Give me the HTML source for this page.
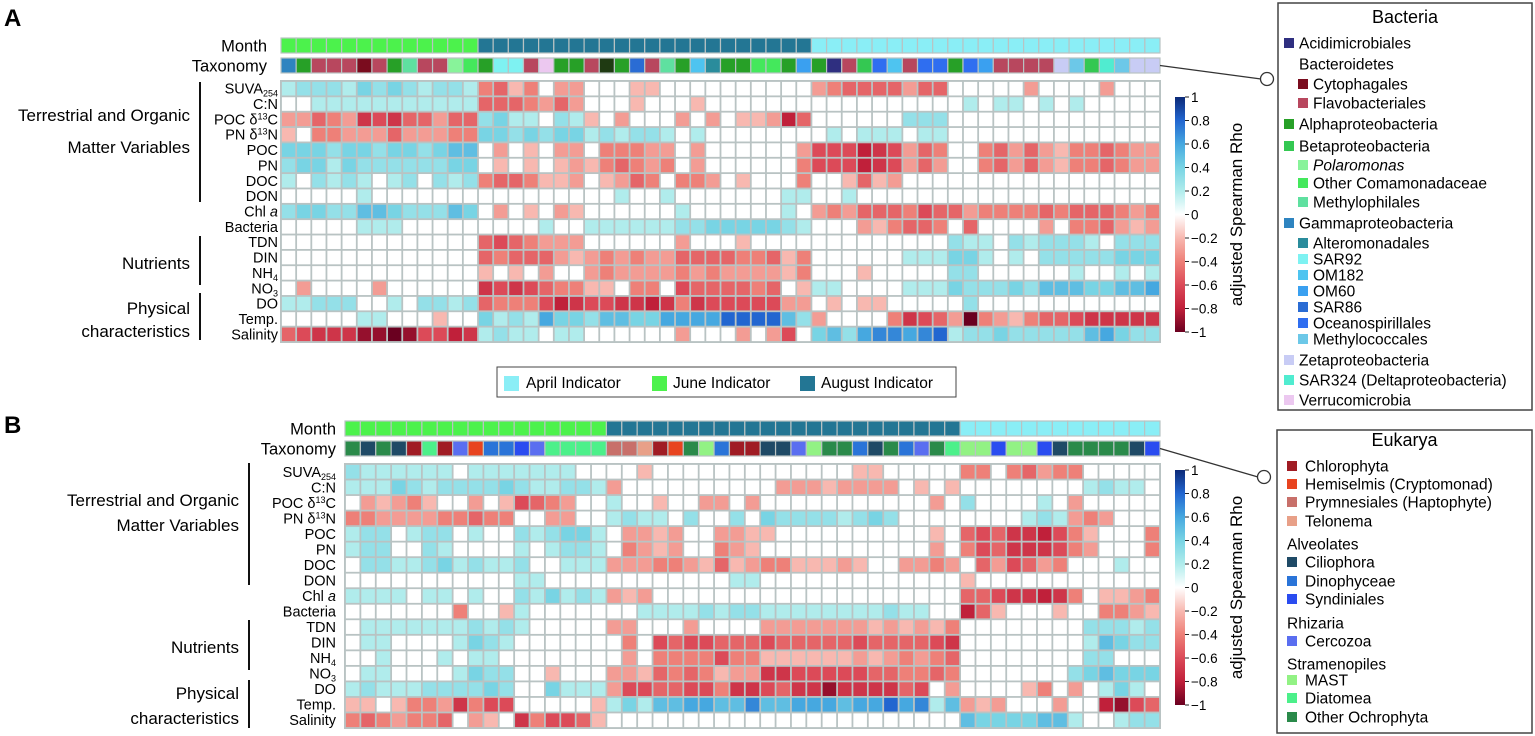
<!DOCTYPE html>
<html><head><meta charset="utf-8"><style>
html,body{margin:0;padding:0;background:#fff;}
svg{display:block;font-family:"Liberation Sans",sans-serif;}
</style></head><body>
<svg id="fig" width="1535" height="736" viewBox="0 0 1535 736" xmlns="http://www.w3.org/2000/svg">
<text x="4" y="26" font-size="24" font-weight="bold">A</text>
<text x="4" y="433" font-size="24" font-weight="bold">B</text>
<g id="gA"></g>
<g id="gB"></g>
<g>
<rect x="497" y="367" width="459" height="30" fill="#fff" stroke="#444" stroke-width="1"/>
<rect x="504" y="376" width="15" height="15" fill="#8aeef6"/>
<text x="526" y="388" font-size="15.5">April Indicator</text>
<rect x="652" y="376" width="15" height="15" fill="#4cf24c"/>
<text x="673" y="388" font-size="15.5">June Indicator</text>
<rect x="800" y="376" width="15" height="15" fill="#237694"/>
<text x="821" y="388" font-size="15.5">August Indicator</text>
</g>
<g id="legA"></g>
<g id="legB"></g>
</svg>
<script>
// ---------- data ----------
const rowLabels = ["SUVA254","C:N","POC d13C","PN d13N","POC","PN","DOC","DON","Chl a","Bacteria","TDN","DIN","NH4","NO3","DO","Temp.","Salinity"];
const monthOrderA = ["June","August","April"];
const monthCountsA = [13,22,23];
const monthOrderB = ["June","August","April"];
const monthCountsB = [17,23,13];
const taxaA = ["gamma","alpha","flavo","flavo","flavo","cyto","flavo","alpha","methylo","flavo","flavo","polar","otherCom","alpha","sar92","sar92","flavo","verruco","alpha","alpha","flavo","unk","alpha","sar86","flavo","methylo","alpha","om182","altero","alpha","alpha","otherCom","otherCom","alpha","om60","alpha","acidi","flavo","beta","oceano","om182","flavo","oceano","oceano","alpha","oceano","om60","flavo","flavo","flavo","flavo","zeta","methylococ","beta","sar324","methylococ","zeta","zeta"];
const taxaB = ["ochro","cilio","ochro","cilio","chloro","diatom","chloro","cerco","hemi","dino","dino","synd","cerco","diatom","diatom","diatom","diatom","prym","prym","telo","chloro","hemi","ochro","mast","dino","chloro","chloro","cilio","cilio","cerco","mast","ochro","ochro","dino","cilio","ochro","dino","cerco","ochro","diatom","mast","mast","synd","mast","mast","synd","cilio","ochro","ochro","ochro","ochro","cilio","synd"];
// values in tenths of adjusted Spearman rho
const rhoA = [
[2,3,3,3,2,4,3,4,3,2,3,3,2,-4,-5,-2,-4,0,-3,-3,0,0,0,-2,-2,0,0,0,0,0,0,0,0,0,0,-3,-4,-5,-5,-5,-5,-3,-5,-5,0,0,0,0,0,-3,0,0,0,0,-3,0,0,0],
[0,0,2,2,2,2,2,2,2,2,2,2,2,-5,-5,-5,-4,-3,-5,-3,0,0,0,-2,0,0,0,-2,0,0,0,0,0,0,0,0,0,0,0,0,0,0,0,0,0,2,0,2,2,0,2,0,2,0,0,0,0,0],
[-3,-3,-5,-4,-3,-7,-6,-7,-5,-5,-3,-5,-5,3,4,2,2,0,3,2,-2,0,-3,0,0,0,-3,0,-3,0,-2,-2,-3,-8,-5,0,0,0,0,0,0,3,3,3,0,0,0,0,0,0,0,0,0,0,0,0,0,0],
[-2,0,-4,-4,-3,-3,-3,-5,-3,-3,-3,-4,-4,4,4,3,4,3,4,4,2,3,2,3,3,2,0,2,0,0,0,0,0,0,0,0,2,0,2,2,2,0,2,2,0,0,0,0,0,0,0,0,0,0,0,0,0,0],
[4,4,4,3,4,4,3,4,4,3,4,5,5,0,-3,0,-2,0,-3,-3,0,-4,-4,-4,-3,-3,0,-3,0,0,0,0,0,0,-3,-6,-6,-6,-8,-7,-6,-3,-5,-4,0,0,-4,-5,-3,-5,-3,-2,-4,-4,-5,-4,-3,-3],
[3,4,4,2,4,3,3,3,3,3,3,4,4,0,-2,0,-2,0,-2,-3,-2,-4,-5,-4,-3,-4,0,-3,0,0,0,0,0,0,-4,-6,-6,-6,-8,-7,-6,-3,-5,-3,0,0,-4,-5,-3,-5,-3,-2,-4,-4,-5,-4,-3,-3],
[2,0,3,2,3,2,0,2,3,0,3,2,3,-4,-5,-5,-4,-2,-2,-3,0,-2,-3,-5,-4,0,-4,-4,-3,0,-2,0,0,0,-4,0,0,-2,-5,-2,-3,0,0,0,0,0,0,0,0,0,0,0,0,0,0,0,0,0],
[0,0,0,0,0,2,0,0,0,0,0,0,0,0,0,0,0,0,0,0,0,0,2,0,0,2,0,0,0,0,0,0,0,2,2,0,0,2,0,0,0,0,0,0,0,0,0,0,0,0,0,0,0,0,0,0,0,0],
[3,4,4,3,3,5,5,4,3,3,3,5,4,0,-3,0,-2,0,-3,-2,0,0,0,0,0,0,2,0,0,0,0,0,0,2,0,-3,-4,-3,-5,-5,-5,-4,-6,-5,-5,-3,-4,-4,-4,-4,-5,-4,-5,-5,-5,-4,-3,-4],
[0,0,0,0,0,2,2,2,0,0,0,0,0,0,0,0,0,2,0,0,2,2,2,2,2,2,3,3,4,4,4,4,4,3,2,0,0,0,-3,-2,-4,-5,-5,-4,0,-5,0,0,0,0,-3,0,-4,-4,-5,-3,-2,-3],
[0,0,0,0,0,0,0,0,0,0,0,0,0,-5,-6,-5,-4,-3,-3,-3,0,0,0,0,0,0,-3,0,0,0,-2,0,0,0,0,0,0,0,0,0,0,0,0,0,3,2,2,0,3,2,3,3,3,2,0,3,3,3],
[0,0,0,0,0,0,0,0,0,0,0,0,0,-5,-4,-5,-5,-5,-3,-2,-3,-4,-3,-4,-3,-3,-5,-5,-5,-5,-4,-4,-5,-2,-4,0,0,0,0,0,0,2,2,2,4,4,2,0,2,0,3,3,3,3,3,4,4,4],
[0,0,0,0,0,0,0,0,0,0,0,0,0,-2,0,-2,0,-3,0,0,-3,-4,-3,-3,-3,-3,-4,-3,-4,-3,-3,-3,-3,-2,-4,0,0,0,-2,0,0,0,0,0,3,3,0,0,0,0,0,0,2,0,0,2,0,2],
[0,-3,0,0,0,0,-3,0,0,0,0,0,0,-7,-6,-7,-6,-5,-4,-4,-2,-2,0,-4,-4,0,-6,-5,-5,-5,-5,-4,-5,0,-2,2,2,0,0,0,0,2,2,2,4,3,3,3,4,3,5,5,5,4,4,5,5,6],
[2,2,3,3,3,0,0,2,0,3,3,2,3,-5,-4,-4,-4,-6,-8,-7,-6,-6,-7,-7,-8,-7,-4,-7,-6,-6,-6,-6,-6,-3,-3,0,-2,0,-2,-2,0,0,0,0,0,3,0,0,0,0,0,0,0,0,0,0,0,0],
[0,0,0,0,0,2,2,0,0,0,-2,0,0,4,2,3,2,6,4,4,3,5,5,4,4,6,6,6,6,8,8,8,8,5,3,-3,0,0,0,0,-4,-7,-6,-5,-3,-10,-4,-3,-2,-4,-5,-5,-6,-7,-7,-7,-7,-7],
[-5,-6,-7,-7,-7,-9,-9,-10,-9,-6,-6,-8,-7,2,3,2,2,0,2,2,0,0,0,0,0,0,-3,0,0,0,-3,0,-3,-6,0,4,5,3,6,7,7,6,7,8,2,3,3,4,3,3,3,3,3,5,6,4,3,3]
];
const rhoB = [
[3,2,2,2,2,2,2,0,2,2,2,2,2,2,2,0,0,0,0,-2,0,0,0,0,0,0,0,0,0,0,0,0,0,-2,-2,0,0,0,0,0,-4,-4,0,-4,-5,-3,-4,-4,0,0,0,0,0],
[2,2,2,4,3,2,3,3,3,3,4,3,2,2,3,3,2,-3,0,0,0,0,0,0,0,0,0,0,-3,-3,-3,-2,-3,-3,-3,-3,0,-2,0,-2,0,0,0,0,0,0,0,0,2,3,2,2,0],
[0,-3,-2,-3,-4,-2,0,0,-3,0,-2,-6,-5,-4,-3,0,0,2,0,0,-2,0,0,-3,-3,0,-3,0,0,0,0,0,0,0,0,0,0,0,-3,0,3,0,0,0,0,2,0,-3,0,0,0,0,0],
[-4,-4,-3,-3,-3,-3,-4,-4,-5,-4,-4,0,0,-3,-3,0,0,2,3,2,2,0,3,0,0,3,0,4,3,3,3,3,2,3,4,3,0,0,0,0,0,0,0,0,2,3,2,-3,-4,-3,0,0,0],
[2,3,3,0,2,3,3,0,2,0,0,3,2,3,4,4,2,0,-3,-3,-2,-3,0,0,-3,-3,-2,-2,0,0,0,0,0,0,0,0,0,0,-2,0,-5,-6,-5,-7,-7,-8,-6,-4,-2,0,0,0,-4],
[2,3,3,0,0,3,2,0,0,0,0,2,0,2,3,3,2,0,-4,-3,-2,-3,0,0,-4,-3,-2,0,0,0,0,0,0,0,0,0,0,0,-3,0,-4,-6,-5,-7,-7,-7,-6,-4,-3,0,0,0,-4],
[0,3,3,2,2,3,4,2,3,2,2,3,0,0,2,2,2,-3,-3,-3,-4,-4,-3,-2,-5,-2,-3,-4,-4,-2,-2,-2,-3,-2,0,0,-3,-3,-4,-3,0,-5,-3,-6,-5,-3,-4,0,0,0,2,0,0],
[0,0,0,0,0,0,0,0,0,0,0,2,2,0,0,0,0,0,0,0,0,0,0,0,0,2,2,0,0,0,0,0,0,0,0,0,0,0,0,0,-2,0,0,0,0,0,0,0,0,0,0,0,0],
[2,2,2,2,0,2,2,0,2,0,0,3,2,4,2,3,2,-3,-2,-3,0,0,0,0,0,0,0,0,0,0,0,0,0,0,0,0,0,0,0,0,-5,-5,-6,-7,-7,-8,-7,-4,0,-2,-2,-3,-4],
[0,0,0,0,0,0,0,-4,0,0,-2,2,0,0,0,0,0,0,0,2,2,2,2,3,2,3,3,2,2,2,2,2,2,2,2,3,2,2,0,0,-8,-5,-2,0,0,0,-2,0,0,-4,-4,-3,-2],
[0,2,2,2,2,2,2,2,3,2,3,2,0,0,0,0,0,-3,-3,0,0,0,-3,0,0,0,0,-3,-3,-3,-3,-3,-3,-3,-2,-3,-2,-3,-2,-4,0,0,0,0,0,0,0,0,3,3,3,2,3],
[0,2,2,0,0,0,0,2,4,3,2,0,0,0,0,0,0,0,-4,0,-6,-5,-6,-6,-5,-5,-5,-6,-5,-5,-5,-5,-5,-6,-5,-5,-5,-5,-6,-7,0,0,0,0,0,0,0,0,2,5,4,3,3],
[0,0,2,0,0,0,2,0,2,2,0,0,0,0,0,0,0,0,-3,0,-4,-4,-4,-4,-6,-4,-4,-2,-2,-2,-2,-2,-2,-3,-2,-3,-4,-3,-4,-5,0,0,0,0,0,0,0,0,3,3,0,0,0],
[0,2,2,0,0,0,0,2,4,3,3,0,0,-2,0,0,0,-3,-3,-2,-5,-4,-5,-4,-2,-3,-3,-7,-7,-6,-6,-6,-6,-6,-5,-5,-4,-4,-5,-4,0,0,0,0,0,0,0,3,4,5,4,4,4],
[2,3,2,2,2,3,3,3,3,4,3,0,0,4,2,2,2,-3,-6,-6,-5,-5,-6,-6,-4,-7,-7,-6,-5,-7,-7,-9,-7,-7,-7,-7,-5,-6,0,-3,0,0,0,0,-2,-4,0,-3,0,2,4,2,0],
[-2,-2,0,-2,-4,-4,-3,-7,-4,-6,-6,0,0,0,0,0,-2,2,4,2,5,5,6,6,5,5,7,5,5,6,6,6,5,6,6,8,6,7,2,5,-3,-2,-3,0,0,0,-3,0,0,-8,-9,-6,-5],
[-4,-5,-4,-3,-4,-4,-5,0,-3,-2,0,-7,-4,-6,-6,-5,-2,0,0,0,0,0,0,0,0,0,0,0,0,0,0,0,0,0,0,0,0,0,0,0,5,4,4,4,4,5,5,2,0,0,2,3,3]
];
const tickValues = [1,0.8,0.6,0.4,0.2,0,-0.2,-0.4,-0.6,-0.8,-1];
const tickLabels = ["1","0.8","0.6","0.4","0.2","0","\u22120.2","\u22120.4","\u22120.6","\u22120.8","\u22121"];

// ---------- styling ----------
const NS="http://www.w3.org/2000/svg";
const monthColor={June:"#4cf24c",August:"#237694",April:"#8aeef6"};
const taxColor={acidi:"#2f2f80",cyto:"#7a0c1e",flavo:"#b8475e",alpha:"#27a027",beta:"#34c852",polar:"#88f39a",otherCom:"#44e85c",methylo:"#5fe0a0",gamma:"#2e84c0",altero:"#2a8c9c",sar92:"#7ef2f2",om182:"#4ec4f0",om60:"#3aa0f0",sar86:"#2a6cd4",oceano:"#2f6ef0",methylococ:"#6cc8e8",zeta:"#c8ccf5",sar324:"#50ecd0",verruco:"#ecc8f0",unk:"#1f3a12",
chloro:"#a01c24",hemi:"#e84420",prym:"#c8706a",telo:"#e8a088",cilio:"#1f4a66",dino:"#2a74d8",synd:"#2a4cf0",cerco:"#5a6ef0",mast:"#92f284",diatom:"#4cf08a",ochro:"#2a8a4a"};
const stopsV=[-1,-0.8,-0.6,-0.4,-0.2,0,0.2,0.4,0.6,0.8,1];
const stopsC=["#6a0020","#c0203a","#dc4a58","#ee8078","#f8b8b0","#ffffff","#b0ecec","#78d4e4","#46a8e0","#2266d0","#0c2a78"];
function hex2(c){return [1,3,5].map(i=>parseInt(c.substr(i,2),16));}
function colorAt(v){
  v=Math.max(-1,Math.min(1,v));
  for(let i=0;i<stopsV.length-1;i++){
    if(v<=stopsV[i+1]){const t=(v-stopsV[i])/(stopsV[i+1]-stopsV[i]);
      const a=hex2(stopsC[i]),b=hex2(stopsC[i+1]);
      return "rgb("+a.map((x,k)=>Math.round(x+(b[k]-x)*t)).join(",")+")";}
  }
  return stopsC[stopsC.length-1];
}
function mk(tag,attrs,parent){const e=document.createElementNS(NS,tag);for(const k in attrs)e.setAttribute(k,attrs[k]);parent.appendChild(e);return e;}
const GRID="#b9c3c3";

function labelText(g,name,x,y,size){
  const t=mk("text",{x:x,y:y,"font-size":size,"text-anchor":"end"},g);
  
  
  const sub=(s)=>{const ts=mk("tspan",{"font-size":size*0.62,dy:3},t);ts.textContent=s;};
  if(name==="SUVA254"){t.appendChild(document.createTextNode("SUVA"));sub("254");}
  else if(name==="NH4"){t.appendChild(document.createTextNode("NH"));sub("4");}
  else if(name==="NO3"){t.appendChild(document.createTextNode("NO"));sub("3");}
  else if(name==="POC d13C"||name==="PN d13N"){
    const p=name.split(" ")[0];t.appendChild(document.createTextNode(p+" \u03b4"));
    const s=mk("tspan",{"font-size":size*0.62,dy:-5},t);s.textContent="13";
    const r=mk("tspan",{dy:5},t);r.textContent=name.endsWith("C")?"C":"N";}
  else if(name==="Chl a"){t.appendChild(document.createTextNode("Chl "));const i=mk("tspan",{"font-style":"italic"},t);i.textContent="a";}
  else t.textContent=name;
}

function drawPanel(g,P){
  const nC=P.taxa.length, pitch=(P.x1-P.x0)/nC, rowH=(P.hy1-P.hy0)/rowLabels.length;
  const xs=i=>P.x0+i*pitch;
  // month bar
  let c=0;
  P.monthOrder.forEach((m,mi)=>{for(let k=0;k<P.monthCounts[mi];k++,c++){
    const r=mk("rect",{x:xs(c),y:P.my,width:pitch,height:P.bh,fill:monthColor[m],stroke:GRID,"stroke-width":1.2},g);
    
    
  }});
  // taxonomy bar
  P.taxa.forEach((tx,i)=>{
    const r=mk("rect",{x:xs(i),y:P.ty,width:pitch,height:P.bh,fill:taxColor[tx],stroke:GRID,"stroke-width":1.2},g);
    
    
  });
  // heatmap frame
  const fr=mk("rect",{x:P.x0-1,y:P.hy0-1,width:P.x1-P.x0+2,height:P.hy1-P.hy0+2,fill:GRID},g);
  
  
  P.data.forEach((row,ri)=>{
    row.forEach((v,ci)=>{
      const r=mk("rect",{x:xs(ci)+0.9,y:P.hy0+ri*rowH+0.9,width:pitch-1.8,height:rowH-1.8,fill:colorAt(v/10)},g);
      
      
    });
    labelText(g,rowLabels[ri],P.lx,P.hy0+ri*rowH+rowH/2+5,14.5);
  });
  // Month / Taxonomy labels
  const t1=mk("text",{x:P.mlx,y:P.my+P.bh/2+6,"font-size":16.5,"text-anchor":"end"},g);t1.textContent="Month";
  
  
  const t2=mk("text",{x:P.mlx,y:P.ty+P.bh/2+6,"font-size":16.5,"text-anchor":"end"},g);t2.textContent="Taxonomy";
  
  
  // groups
  P.groups.forEach(gr=>{
    const l=mk("line",{x1:P.gx,x2:P.gx,y1:gr.y0,y2:gr.y1,stroke:"#111","stroke-width":2},g);
    
    
    gr.lines.forEach((s,k)=>{
      const t=mk("text",{x:P.gtx,y:gr.ty[k],"font-size":17,"text-anchor":"end"},g);t.textContent=s;
      
      
    });
  });
  // colorbar
  const id="grad"+P.key;
  const defs=mk("defs",{},g);
  const lg=mk("linearGradient",{id:id,x1:0,y1:0,x2:0,y2:1},defs);
  stopsV.slice().reverse().forEach((v,i)=>{mk("stop",{offset:(i/(stopsV.length-1)),"stop-color":stopsC[stopsC.length-1-i]},lg);});
  const cb=mk("rect",{x:1175,y:P.cy0,width:10,height:P.cy1-P.cy0,fill:"url(#"+id+")"},g);
  
  
  const cyv=v=>P.cy0+(1-v)/2*(P.cy1-P.cy0);
  tickValues.forEach((v,i)=>{
    const tk=mk("line",{x1:1185,x2:1189,y1:cyv(v),y2:cyv(v),stroke:"#222","stroke-width":1},g);
    
    
    const t=mk("text",{x:1191,y:cyv(v)+5,"font-size":13.5},g);t.textContent=tickLabels[i];
    
    
  });
  const ct=mk("text",{x:0,y:0,"font-size":17,"text-anchor":"middle",transform:"translate(1242,"+((P.cy0+P.cy1)/2)+") rotate(-90)"},g);
  ct.textContent="adjusted Spearman Rho";
  
  
  // connector
  const cl=mk("line",{x1:P.x1,y1:P.ty+P.bh/2,x2:P.cx-6,y2:P.cyc,stroke:"#333","stroke-width":1.3},g);
  
  
  const cc=mk("circle",{cx:P.cx,cy:P.cyc,r:6.5,fill:"#fff",stroke:"#333","stroke-width":1.3},g);
  
  
}

drawPanel(document.getElementById("gA"),{key:"A",taxa:taxaA,data:rhoA,monthOrder:monthOrderA,monthCounts:monthCountsA,
  x0:281,x1:1160,my:38,ty:58,bh:15,hy0:81,hy1:342,lx:278,mlx:267,gx:200,gtx:190,
  groups:[{y0:82,y1:202,lines:["Terrestrial and Organic","Matter Variables"],ty:[121,153]},
          {y0:236,y1:285,lines:["Nutrients"],ty:[269]},
          {y0:293,y1:340,lines:["Physical","characteristics"],ty:[314,337]}],
  cy0:97,cy1:332,cx:1267,cyc:79});
drawPanel(document.getElementById("gB"),{key:"B",taxa:taxaB,data:rhoB,monthOrder:monthOrderB,monthCounts:monthCountsB,
  x0:345,x1:1160,my:421,ty:441,bh:15,hy0:464,hy1:728,lx:336,mlx:336,gx:249,gtx:239,
  groups:[{y0:463,y1:585,lines:["Terrestrial and Organic","Matter Variables"],ty:[506,531]},
          {y0:620,y1:670,lines:["Nutrients"],ty:[653]},
          {y0:680,y1:728,lines:["Physical","characteristics"],ty:[699,724]}],
  cy0:470,cy1:705,cx:1264,cyc:477});

// ---------- legends ----------
const legAItems=[["Acidimicrobiales","acidi",0,43],["Bacteroidetes",null,0,64],["Cytophagales","cyto",1,84],["Flavobacteriales","flavo",1,103],
["Alphaproteobacteria","alpha",0,124],["Betaproteobacteria","beta",0,146],["Polaromonas","polar",1,165,true],["Other Comamonadaceae","otherCom",1,183],
["Methylophilales","methylo",1,202],["Gammaproteobacteria","gamma",0,223],["Alteromonadales","altero",1,243],["SAR92","sar92",1,259],["OM182","om182",1,275],
["OM60","om60",1,291],["SAR86","sar86",1,307],["Oceanospirillales","oceano",1,323],["Methylococcales","methylococ",1,339],
["Zetaproteobacteria","zeta",0,360],["SAR324 (Deltaproteobacteria)","sar324",0,380],["Verrucomicrobia","verruco",0,400]];
const legBItems=[["Chlorophyta","chloro",0,466],["Hemiselmis (Cryptomonad)","hemi",0,484],["Prymnesiales (Haptophyte)","prym",0,502],["Telonema","telo",0,521],
["Alveolates",null,0,544],["Ciliophora","cilio",0,562],["Dinophyceae","dino",0,581],["Syndiniales","synd",0,599],
["Rhizaria",null,0,623],["Cercozoa","cerco",0,641],["Stramenopiles",null,0,664],["MAST","mast",0,680],["Diatomea","diatom",0,698],["Other Ochrophyta","ochro",0,717]];
function drawLegend(g,box,title,titleY,items,cfg){
  const b=mk("rect",{x:box[0],y:box[1],width:box[2],height:box[3],fill:"#fff",stroke:"#444","stroke-width":1.5},g);
  
  
  const t=mk("text",{x:box[0]+box[2]/2,y:titleY,"font-size":18,"text-anchor":"middle"},g);t.textContent=title;
  
  
  items.forEach(it=>{
    const [name,key,lvl,y,ital]=it;
    const sx=cfg.sx+lvl*cfg.ind;
    if(key){
      const s=mk("rect",{x:sx,y:y-5,width:10,height:10,fill:taxColor[key]},g);
      
      
    }
    const tx=key?sx+cfg.tg:(lvl===0&&!cfg.headFlush?cfg.sx+cfg.tg:cfg.sx);
    const te=mk("text",{x:tx,y:y+5.5,"font-size":15.5},g);te.textContent=name;
    if(ital)te.setAttribute("font-style","italic");
    
    
  });
}
drawLegend(document.getElementById("legA"),[1278,3,254,407],"Bacteria",23,legAItems,{sx:1284,ind:14,tg:15,headFlush:false});
drawLegend(document.getElementById("legB"),[1277,430,255,303],"Eukarya",446,legBItems,{sx:1287,ind:0,tg:18,headFlush:true});
</script>
</body></html>
